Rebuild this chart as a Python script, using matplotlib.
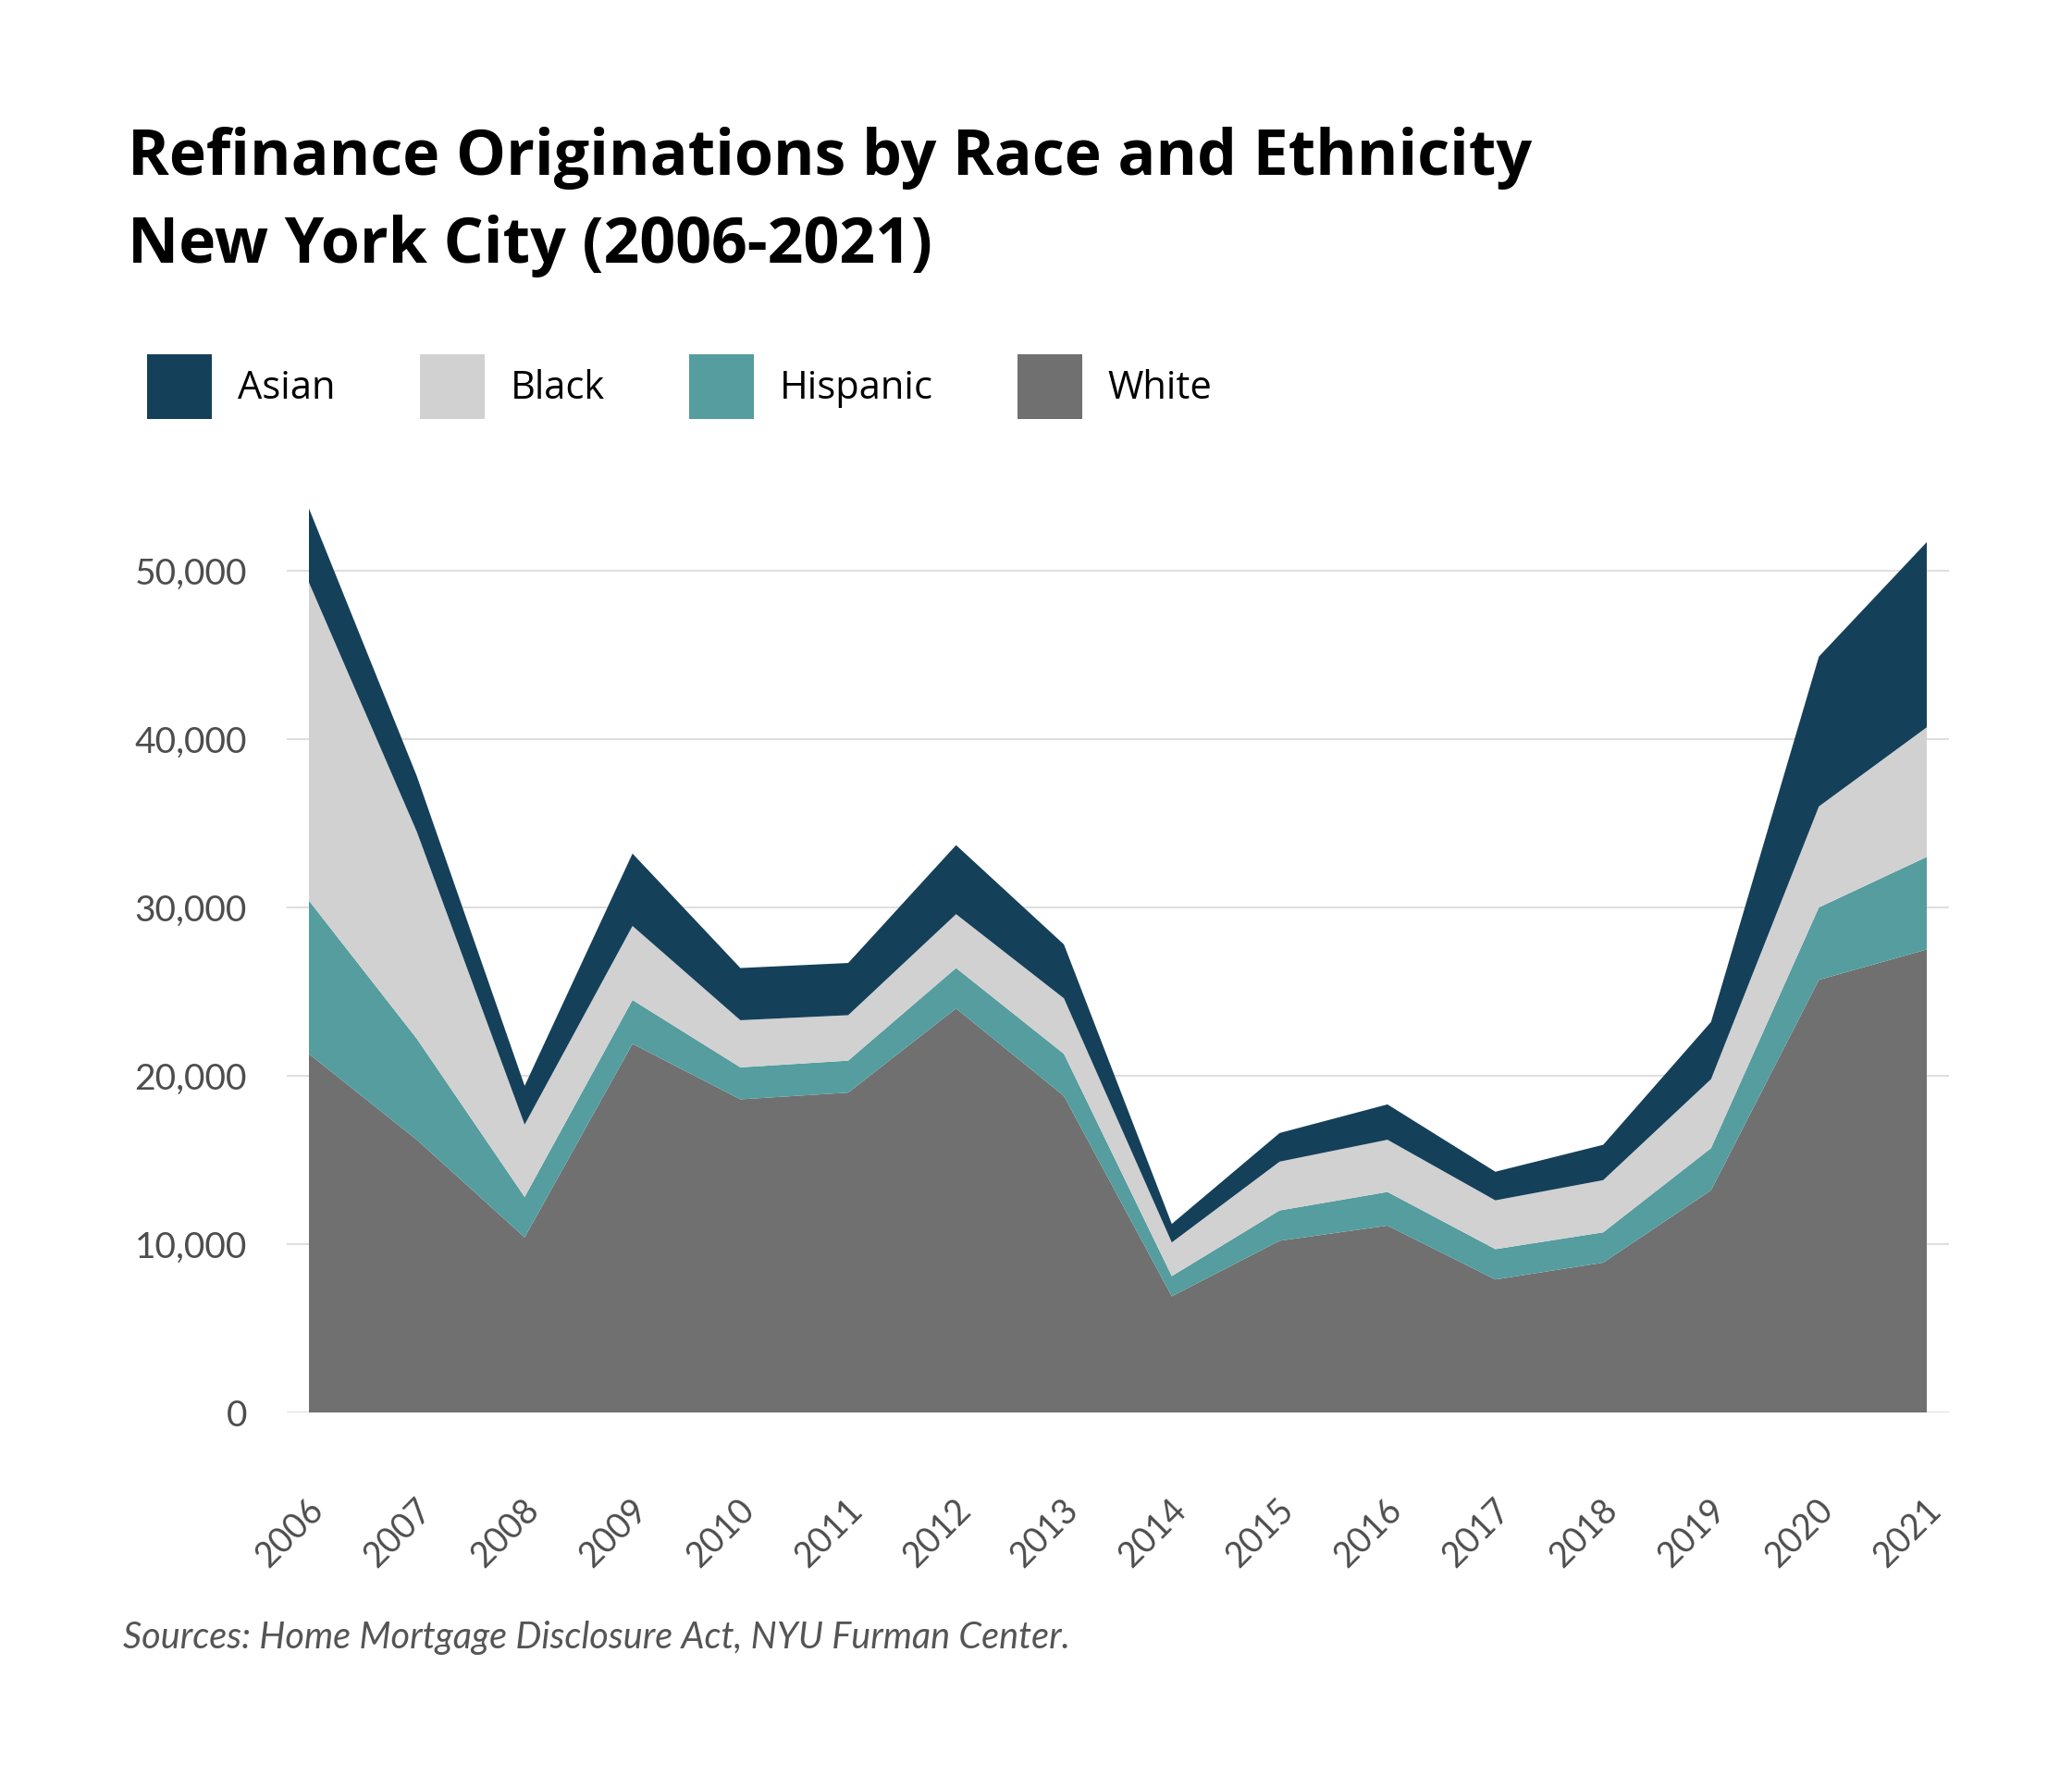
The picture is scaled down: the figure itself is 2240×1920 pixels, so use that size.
import matplotlib
matplotlib.use("Agg")
import matplotlib.pyplot as plt
import matplotlib.transforms as mtransforms

years = [2006, 2007, 2008, 2009, 2010, 2011, 2012, 2013,
         2014, 2015, 2016, 2017, 2018, 2019, 2020, 2021]

# originations per group
white = [21300, 16200, 10400, 21900, 18600, 19000, 24000, 18800,
         6900, 10200, 11100, 7900, 8900, 13200, 25700, 27500]
hispanic = [9100, 6000, 2400, 2600, 1900, 1900, 2400, 2500,
            1200, 1800, 2000, 1800, 1800, 2500, 4300, 5500]
black = [18900, 12300, 4300, 4400, 2800, 2700, 3200, 3300,
         2000, 2900, 3100, 2900, 3100, 4100, 6000, 7700]
asian = [4400, 3300, 2300, 4300, 3100, 3100, 4100, 3200,
         1100, 1700, 2100, 1700, 2100, 3400, 8900, 11000]

series_labels = ["White", "Hispanic", "Black", "Asian"]
colors = ["#707070", "#559d9f", "#d1d1d1", "#15405a"]
yticks = [0, 10000, 20000, 30000, 40000, 50000]

W, H = 2240, 1920
fig = plt.figure(figsize=(W / 100, H / 100), dpi=100)

# axes box in pixels: x 310..2107, zero line at y=1527
ax = fig.add_axes([310 / W, (H - 1527) / H, 1797 / W, 1001 / H])
polys = ax.stackplot(years, white, hispanic, black, asian,
                     colors=colors, labels=series_labels, linewidth=0, zorder=2)

step = (2021 - 2006) / (2083 - 334)
ax.set_xlim(2006 - 24 * step, 2021 + 24 * step)
ax.set_ylim(0, 55000)

ax.set_yticks(yticks)
ax.set_yticklabels([f"{v:,}" for v in yticks])
ax.yaxis.grid(True, color="#d4d4d4", linewidth=1.1, zorder=0)
ax.set_axisbelow(True)
for s in ax.spines.values():
    s.set_visible(False)
ax.tick_params(axis="y", length=0, pad=31, labelsize=28, labelcolor="#4d4d4d")
for lbl in ax.get_yticklabels():
    lbl.set_fontfamily("Lato")

ax.set_xticks(years)
ax.set_xticklabels([str(y) for y in years])
ax.tick_params(axis="x", length=0, pad=72, labelsize=27, labelcolor="#4d4d4d")
shift = mtransforms.ScaledTranslation(10 / 100, 0, fig.dpi_scale_trans)
for lbl in ax.get_xticklabels():
    lbl.set_fontfamily("Lato")
    lbl.set_rotation(45)
    lbl.set_ha("right")
    lbl.set_va("center")
    lbl.set_rotation_mode("anchor")
    lbl.set_transform(lbl.get_transform() + shift)

# title, two lines
fig.text(138 / W, 1 - 189 / H, "Refinance Originations by Race and Ethnicity",
         fontsize=49, fontweight="bold", family="Open Sans", color="black", va="baseline")
fig.text(138 / W, 1 - 284 / H, "New York City (2006-2021)",
         fontsize=49, fontweight="bold", family="Open Sans", color="black", va="baseline")

# legend: Asian, Black, Hispanic, White
handles = list(reversed(polys))
labels = list(reversed(series_labels))
fs = 30
em = fs * 100 / 72
fig.legend(handles, labels, loc="upper left", bbox_to_anchor=(159 / W, 1 - 383 / H),
           ncol=4, frameon=False, prop={"family": "Open Sans", "size": fs},
           handlelength=70 / em, handleheight=2.21,
           handletextpad=28 / em, columnspacing=91 / em,
           borderpad=0, borderaxespad=0)

fig.text(133 / W, 1 - 1782 / H, "Sources: Home Mortgage Disclosure Act, NYU Furman Center.",
         fontsize=28.5, style="italic", family="Lato", color="#555555", va="baseline")

fig.savefig("out.png", dpi=100)
